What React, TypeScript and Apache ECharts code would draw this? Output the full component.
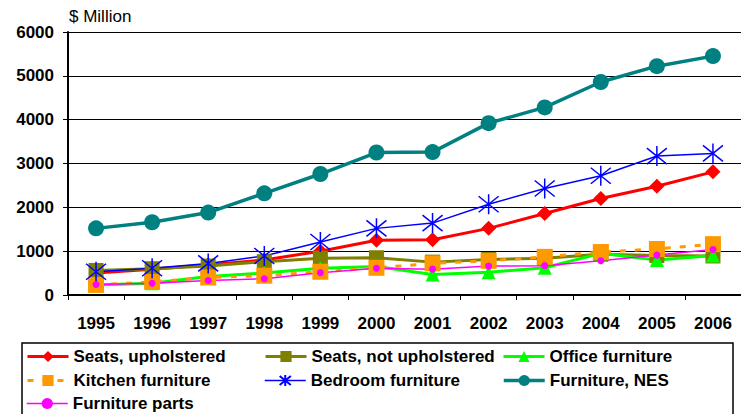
import React, { useEffect, useRef } from "react";
import * as echarts from "echarts";

const years = ["1995", "1996", "1997", "1998", "1999", "2000", "2001", "2002", "2003", "2004", "2005", "2006"];
const seatsUpholstered = [500, 590, 690, 800, 1000, 1250, 1260, 1520, 1860, 2200, 2480, 2810];
const seatsNotUpholstered = [560, 600, 660, 760, 840, 850, 750, 810, 840, 930, 900, 890];
const officeFurniture = [230, 270, 420, 500, 610, 650, 470, 520, 620, 950, 800, 900];
const kitchenFurniture = [230, 300, 400, 440, 530, 620, 720, 780, 870, 980, 1050, 1160];
const bedroomFurniture = [530, 610, 720, 890, 1210, 1520, 1640, 2070, 2430, 2720, 3170, 3230];
const furnitureNES = [1520, 1660, 1880, 2320, 2760, 3250, 3260, 3920, 4280, 4860, 5220, 5450];
const furnitureParts = [240, 270, 330, 370, 510, 610, 590, 660, 670, 780, 910, 1040];
const yTicks = { min: 0, max: 6000, interval: 1000 };

const FONT = "'Liberation Sans', Arial, sans-serif";
const STAR = "path://M0,2L20,18M0,18L20,2M10,0L10,20";

export default function App() {
  const ref = useRef<HTMLDivElement>(null);
  useEffect(() => {
    if (!ref.current) return;
    const chart = echarts.init(ref.current, undefined, { renderer: "svg" });
    const mk = (name: string, data: number[], color: string, width: number, symbol: string, size: number, extra: any = {}) => ({
      name,
      type: "line",
      data,
      symbol,
      symbolSize: size,
      lineStyle: { color, width, ...(extra.lineStyle || {}) },
      itemStyle: { color, ...(extra.itemStyle || {}) },
      emphasis: { disabled: true },
    });
    const legendText = { fontFamily: FONT, fontWeight: "bold" as const, fontSize: 17, color: "#000" };
    const lg = (name: string, left: number, top: number, width: number) => ({
      left,
      top,
      padding: 0,
      itemWidth: 41,
      itemHeight: 14,
      textStyle: legendText,
      selectedMode: false,
      lineStyle: { width },
      data: [name],
    });
    chart.setOption({
      animation: false,
      backgroundColor: "#fff",
      grid: { left: 68, top: 32, right: -10, bottom: 119 },
      xAxis: {
        type: "category",
        data: years,
        boundaryGap: true,
        axisLine: { lineStyle: { color: "#000", width: 2 } },
        axisTick: { show: true, length: 5, lineStyle: { color: "#000", width: 1 } },
        axisLabel: { fontFamily: FONT, fontWeight: "bold", fontSize: 17, color: "#000", margin: 20 },
        splitLine: { show: false },
      },
      yAxis: {
        type: "value",
        min: yTicks.min,
        max: yTicks.max,
        interval: yTicks.interval,
        axisLine: { show: true, lineStyle: { color: "#000", width: 2 } },
        axisTick: { show: true, length: 5, lineStyle: { color: "#000", width: 1 } },
        axisLabel: {
          fontFamily: FONT,
          fontWeight: "bold",
          fontSize: 17,
          color: "#000",
          margin: 14,
          formatter: (v: number) => String(v),
        },
        splitLine: { show: true, lineStyle: { color: "#000", width: 1.2 } },
      },
      legend: [
        lg("Seats, upholstered", 26, 348, 3),
        lg("Kitchen furniture", 26, 372, 3),
        lg("Furniture parts", 26, 395, 1.5),
        lg("Seats, not upholstered", 264, 348, 3),
        lg("Bedroom furniture", 264, 372, 1.5),
        lg("Office furniture", 502, 348, 3),
        lg("Furniture, NES", 502, 372, 3.5),
      ],
      graphic: [
        {
          type: "rect",
          shape: { x: 22, y: 343, width: 711, height: 100 },
          style: { fill: "none", stroke: "#000", lineWidth: 1.5 },
          z: 0,
        },
        {
          type: "text",
          left: 69,
          top: 8,
          style: { text: "$ Million", fontFamily: FONT, fontSize: 17, fill: "#000" },
        },
      ],
      series: [
        mk("Seats, upholstered", seatsUpholstered, "#FF0000", 3, "diamond", 15),
        mk("Seats, not upholstered", seatsNotUpholstered, "#808000", 3, "rect", 15),
        mk("Office furniture", officeFurniture, "#00FF00", 3, "triangle", 14),
        mk("Kitchen furniture", kitchenFurniture, "#FF9900", 3, "rect", 16, { lineStyle: { type: [6, 9] } }),
        mk("Bedroom furniture", bedroomFurniture, "#0000FF", 1.5, STAR, 20, {
          itemStyle: { borderColor: "#0000FF", borderWidth: 1.5 },
        }),
        mk("Furniture, NES", furnitureNES, "#008080", 3.5, "circle", 16),
        mk("Furniture parts", furnitureParts, "#FF00FF", 1.5, "circle", 7),
      ],
    });
    return () => chart.dispose();
  }, []);
  return <div ref={ref} style={{ position: "fixed", left: 0, top: 0, width: 741, height: 414 }} />;
}
